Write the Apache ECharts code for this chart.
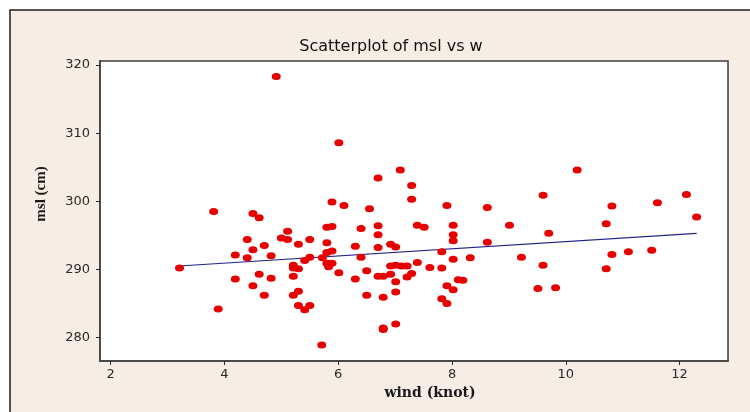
<!DOCTYPE html>
<html>
<head>
<meta charset="utf-8">
<script src="https://cdn.jsdelivr.net/npm/echarts@6/dist/echarts.min.js"></script>
<style>
  html, body { margin: 0; padding: 0; background: #ffffff; }
  #chart { width: 750px; height: 412px; }
</style>
</head>
<body>
<div id="chart"></div>
<script>
// Wind speed (knot) and mean sea level (cm) observations
const windData = [
  4.91, 6.01, 7.09, 10.20, 6.70, 7.29, 9.60, 12.12, 7.29, 5.89,
  6.10, 7.91, 8.62, 10.81, 11.61, 6.55, 3.81, 4.50, 4.61, 12.30,
  9.01, 10.71, 5.80, 5.89, 6.70, 7.39, 7.51, 8.02, 6.40, 9.70,
  8.02, 6.70, 5.11, 5.00, 5.11, 5.50, 4.40, 8.02, 8.62, 5.80,
  5.30, 4.70, 6.92, 7.01, 6.70, 6.30, 4.50, 5.89, 5.80, 7.82,
  11.10, 11.51, 4.19, 4.82, 10.81, 5.50, 5.72, 4.40, 6.40, 8.32,
  9.22, 8.02, 5.41, 7.39, 5.80, 5.89, 5.21, 5.21, 5.30, 5.83,
  6.92, 7.01, 7.11, 7.21, 3.21, 7.61, 7.82, 9.60, 10.71, 6.01,
  5.21, 6.50, 4.61, 6.70, 6.79, 6.92, 7.29, 7.21, 4.19, 4.82,
  6.30, 8.11, 8.19, 7.01, 7.91, 9.82, 9.51, 4.50, 8.02, 5.30,
  5.21, 4.70, 6.50, 7.01, 6.79, 7.82, 7.91, 5.30, 5.50, 5.41,
  3.89, 7.01, 6.79, 6.79, 5.71
];
const mslData = [
  318.3, 308.6, 304.6, 304.6, 303.4, 302.3, 300.9, 301.0, 300.3, 299.9,
  299.4, 299.4, 299.1, 299.3, 299.8, 298.9, 298.5, 298.2, 297.6, 297.7,
  296.5, 296.7, 296.2, 296.3, 296.4, 296.5, 296.2, 296.5, 296.0, 295.3,
  295.1, 295.1, 295.6, 294.6, 294.4, 294.4, 294.4, 294.2, 294.0, 293.9,
  293.7, 293.5, 293.7, 293.3, 293.2, 293.4, 292.9, 292.7, 292.5, 292.6,
  292.6, 292.8, 292.1, 292.0, 292.2, 291.8, 291.7, 291.7, 291.8, 291.7,
  291.8, 291.5, 291.3, 291.0, 290.9, 290.9, 290.6, 290.2, 290.1, 290.4,
  290.5, 290.6, 290.5, 290.5, 290.2, 290.3, 290.2, 290.6, 290.1, 289.5,
  289.0, 289.8, 289.3, 289.0, 289.0, 289.3, 289.4, 288.9, 288.6, 288.7,
  288.6, 288.5, 288.4, 288.2, 287.6, 287.3, 287.2, 287.6, 287.0, 286.8,
  286.2, 286.2, 286.2, 286.7, 285.9, 285.7, 285.0, 284.7, 284.7, 284.1,
  284.2, 282.0, 281.4, 281.2, 278.9
];

// Fitted regression line end points
const fitWind = [3.2, 12.3];
const fitMsl = [290.5, 295.3];

// Axis tick values
const xTicks = [2, 4, 6, 8, 10, 12];
const yTicks = [280, 290, 300, 310, 320];

const points = windData.map((w, i) => [w, mslData[i]]);
const fitLine = fitWind.map((w, i) => [w, fitMsl[i]]);

const chart = echarts.init(document.getElementById('chart'), null, { renderer: 'canvas' });

const tickLabelStyle = {
  color: '#2a2a2a',
  fontFamily: 'DejaVu Sans',
  fontSize: 13
};

chart.setOption({
  backgroundColor: '#ffffff',
  animation: false,
  graphic: [
    {
      type: 'rect',
      z: -10,
      shape: { x: 10, y: 10, width: 760, height: 420 },
      style: { fill: '#f6ede4', stroke: '#1e1e1e', lineWidth: 1.5 }
    }
  ],
  title: {
    text: 'Scatterplot of msl vs w',
    left: 386,
    textAlign: 'center',
    top: 34,
    textStyle: {
      fontFamily: 'DejaVu Sans',
      fontWeight: 'normal',
      fontSize: 16,
      color: '#111111'
    }
  },
  grid: {
    left: 100,
    right: 22,
    top: 61,
    bottom: 51,
    show: true,
    backgroundColor: '#ffffff',
    borderColor: '#3c3c3c',
    borderWidth: 1.5
  },
  xAxis: {
    type: 'value',
    min: 1.812,
    max: 12.851,
    name: 'wind (knot)',
    nameLocation: 'middle',
    nameGap: 25,
    nameTextStyle: {
      fontFamily: 'DejaVu Serif',
      fontWeight: 'bold',
      fontSize: 14,
      color: '#1a1a1a',
      padding: [0, 0, 0, 32]
    },
    splitLine: { show: false },
    axisLine: { show: true, onZero: false, lineStyle: { color: '#4a4a4a', width: 2 } },
    axisTick: {
      show: true,
      length: 4,
      customValues: xTicks,
      lineStyle: { color: '#2a2a2a', width: 1 }
    },
    axisLabel: Object.assign({ margin: 7, customValues: xTicks }, tickLabelStyle)
  },
  yAxis: {
    type: 'value',
    min: 276.56,
    max: 320.59,
    name: 'msl (cm)',
    nameLocation: 'middle',
    nameGap: 51,
    nameTextStyle: {
      fontFamily: 'Liberation Serif',
      fontWeight: 'bold',
      fontSize: 15,
      color: '#1a1a1a',
      padding: [0, 0, 0, 34]
    },
    splitLine: { show: false },
    axisLine: { show: true, onZero: false, lineStyle: { color: '#4a4a4a', width: 2 } },
    axisTick: {
      show: true,
      length: 4,
      customValues: yTicks,
      lineStyle: { color: '#2a2a2a', width: 1 }
    },
    axisLabel: Object.assign({ margin: 10, customValues: yTicks }, tickLabelStyle)
  },
  series: [
    {
      name: 'fit',
      type: 'line',
      data: fitLine,
      symbol: 'none',
      z: 1,
      lineStyle: { color: '#23238a', width: 1.2 }
    },
    {
      name: 'msl',
      type: 'scatter',
      data: points,
      symbol: 'circle',
      symbolSize: [9, 7],
      z: 2,
      itemStyle: { color: '#e60000', opacity: 1 }
    }
  ]
});
</script>
</body>
</html>
